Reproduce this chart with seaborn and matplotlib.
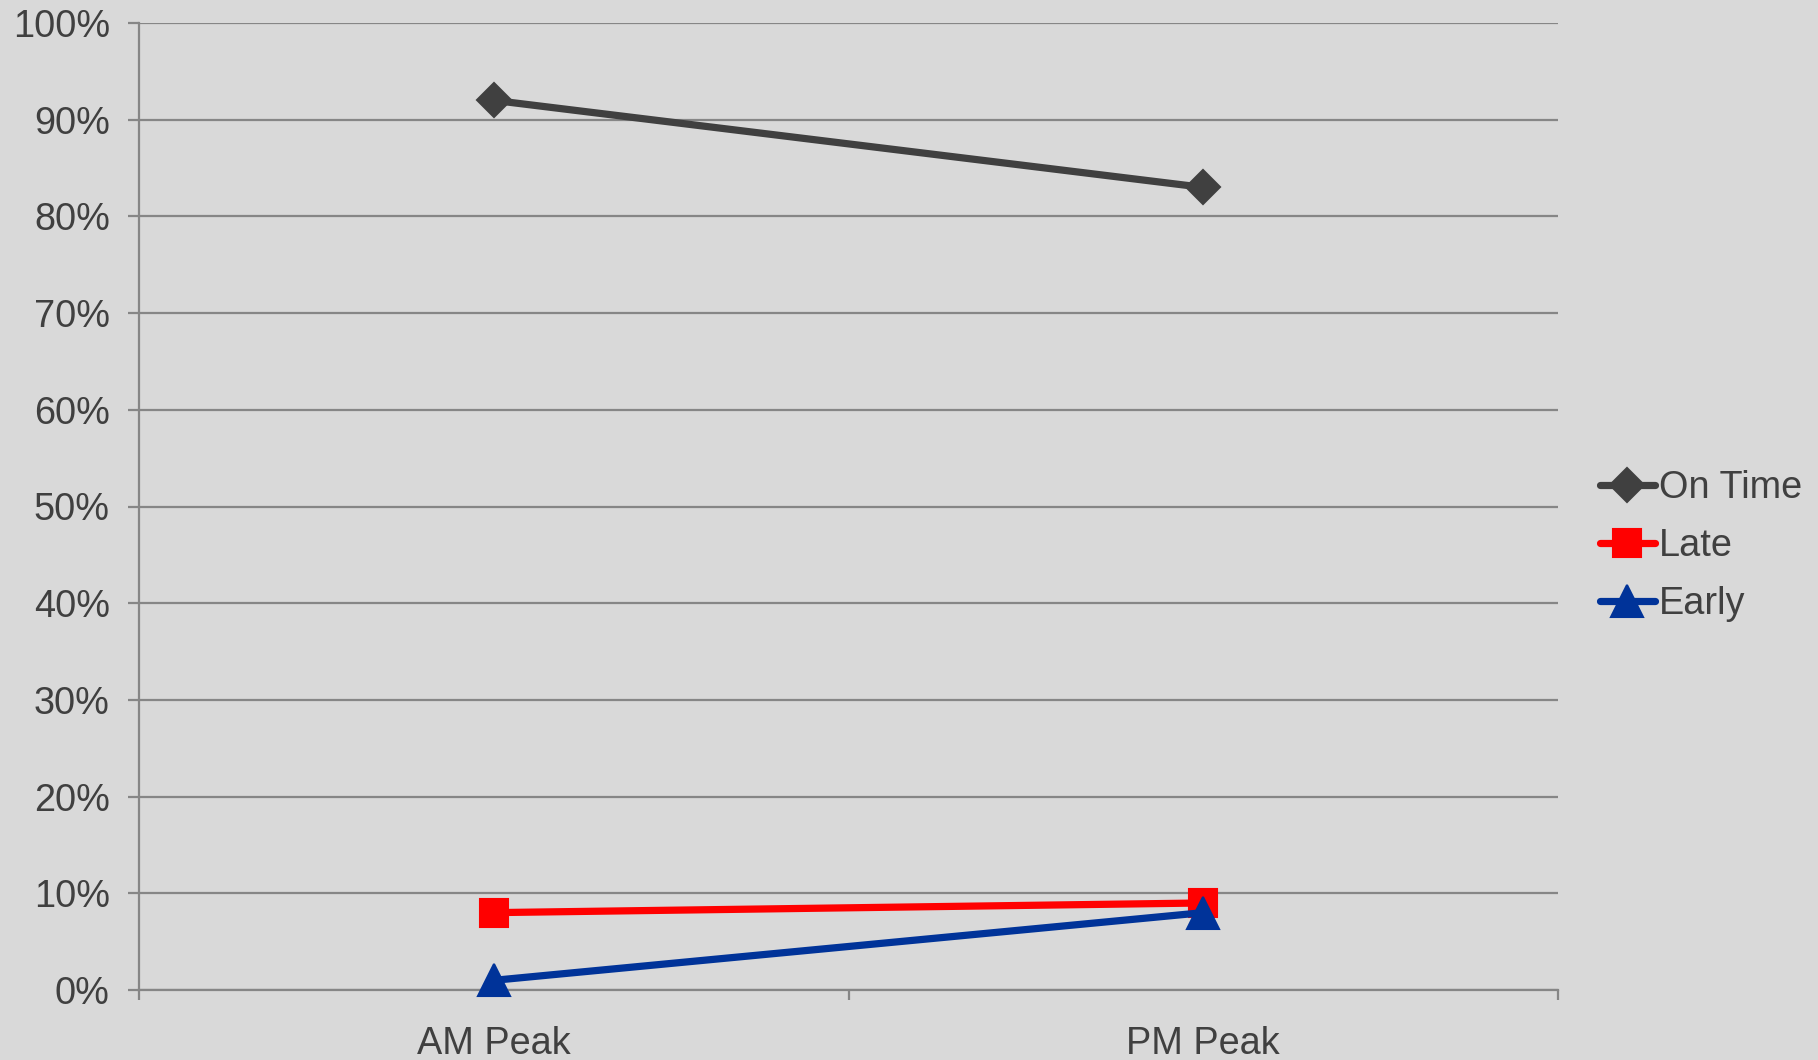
import matplotlib
matplotlib.use("Agg")
import matplotlib.pyplot as plt
import seaborn as sns
import pandas as pd
from matplotlib.ticker import FixedLocator, PercentFormatter

# Share of trips by punctuality, per peak period (percent)
periods = ["AM Peak", "PM Peak"]
on_time = [92, 83]
late = [8, 9]
early = [1, 8]

series_names = ["On Time", "Late", "Early"]
series_values = [on_time, late, early]
colors = {"On Time": "#404040", "Late": "#FF0000", "Early": "#003399"}
markers = {"On Time": "D", "Late": "s", "Early": "^"}
marker_sizes = {"On Time": 17, "Late": 20.5, "Early": 23}

rows = []
for name, vals in zip(series_names, series_values):
    for i, (p, v) in enumerate(zip(periods, vals)):
        rows.append({"pos": i, "period": p, "status": name, "share": v})
df = pd.DataFrame(rows)

sns.set_theme(style="white")
plt.rcParams["font.family"] = ["Liberation Sans", "DejaVu Sans"]
bg = "#D9D9D9"
grid_c = "#868686"
text_c = "#404040"
fs = 27.3

fig = plt.figure(figsize=(18.18, 10.6), dpi=100, facecolor=bg)
ax = fig.add_axes([139 / 1818, 70 / 1060, (1558 - 139) / 1818, (990 - 23) / 1060])
ax.set_facecolor(bg)

sns.lineplot(
    data=df, x="pos", y="share", hue="status", style="status",
    hue_order=series_names, style_order=series_names,
    palette=colors, markers=markers, dashes=False,
    linewidth=5.2, markersize=19, markeredgewidth=1.5,
    ax=ax, legend=True, sort=False, zorder=3,
)
for line, name in zip(ax.get_lines(), series_names):
    line.set_markeredgecolor(line.get_color())
    line.set_markersize(marker_sizes[name])
    line.set_solid_joinstyle("round")
    line.set_solid_capstyle("round")
    line.set_clip_on(False)

ax.set_xlim(-0.5, 1.5)
ax.set_ylim(0, 100)
ax.set_yticks(range(0, 101, 10))
ax.yaxis.set_major_formatter(PercentFormatter(decimals=0))
ax.set_xticks(range(len(periods)))
ax.set_xticklabels(periods)
ax.xaxis.set_minor_locator(FixedLocator([-0.5, 0.5, 1.5]))

ax.grid(axis="y", color=grid_c, linewidth=1.6, zorder=0)
ax.grid(axis="x", visible=False)
ax.set_axisbelow(True)
for s in ["top", "right"]:
    ax.spines[s].set_visible(False)
for s in ["left", "bottom"]:
    ax.spines[s].set_color(grid_c)
    ax.spines[s].set_linewidth(1.6)

ax.tick_params(axis="y", which="major", length=8, width=1.6, color=grid_c,
               direction="out", pad=13, labelsize=fs, labelcolor=text_c, left=True)
ax.tick_params(axis="x", which="major", length=0, pad=26,
               labelsize=fs, labelcolor=text_c, bottom=True)
ax.tick_params(axis="x", which="minor", length=7, width=1.6, color=grid_c,
               direction="out", bottom=True)
ax.set_xlabel("")
ax.set_ylabel("")

handles, labels = ax.get_legend_handles_labels()
ax.get_legend().remove()
leg = fig.legend(
    handles, labels, loc="center left", bbox_to_anchor=(1600 / 1818, 1 - 546 / 1060),
    frameon=False, fontsize=fs, handlelength=1.45, handletextpad=0.1,
    labelspacing=0.58, borderpad=0, borderaxespad=0,
)
for t in leg.get_texts():
    t.set_color(text_c)
for h, name in zip(leg.legend_handles, series_names):
    h.set_solid_capstyle("round")
    h.set_markersize(marker_sizes[name])
    h.set_markeredgecolor(colors[name])
    h.set_markerfacecolor(colors[name])
    h.set_markeredgewidth(1.5)
    h.set_linewidth(5.2)

fig.savefig("out.png", dpi=100, facecolor=bg)
